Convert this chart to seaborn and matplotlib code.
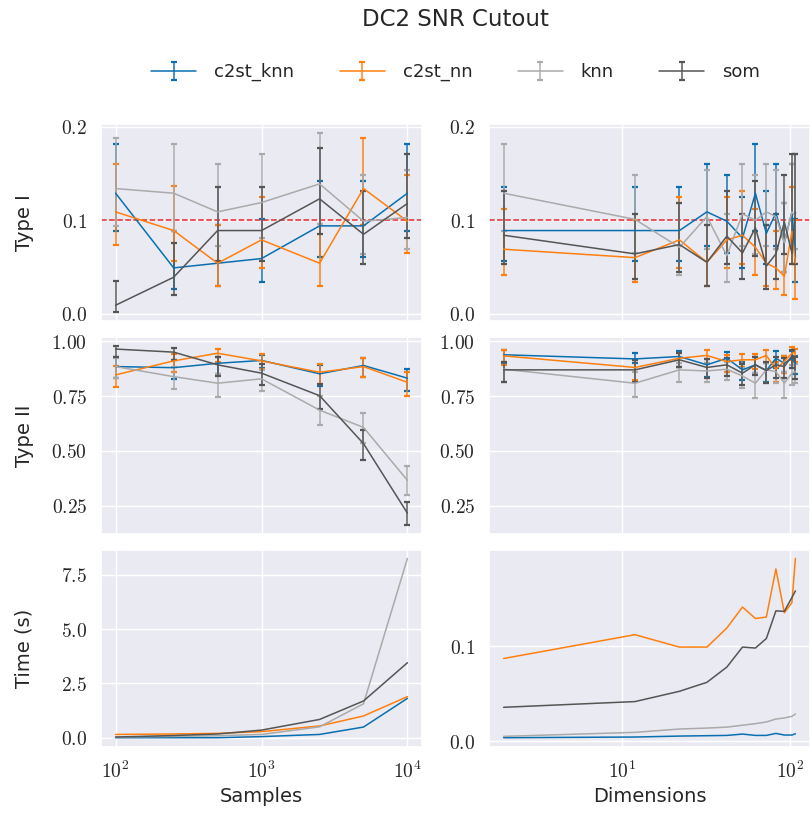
import numpy as np
import pandas as pd
import matplotlib
matplotlib.use("Agg")
import matplotlib.pyplot as plt
from matplotlib.ticker import FuncFormatter, NullLocator
import seaborn as sns

# ---------------- data ----------------
methods = ["c2st_knn", "c2st_nn", "knn", "som"]
colors = ["#0a6fb0", "#ff7f0e", "#aaaaaa", "#555555"]

samples = [100, 250, 500, 1000, 2500, 5000, 10000]
dims = [2, 12, 22, 32, 42, 52, 62, 72, 82, 92, 102, 107]

# Type I vs samples (value, lower bound, upper bound)
t1s_c2st_knn = [0.129, 0.049, 0.054, 0.059, 0.094, 0.094, 0.129]
t1s_c2st_knn_lo = [0.089, 0.026, 0.030, 0.034, 0.061, 0.061, 0.089]
t1s_c2st_knn_hi = [0.182, 0.089, 0.095, 0.101, 0.142, 0.142, 0.182]
t1s_c2st_nn = [0.109, 0.089, 0.054, 0.079, 0.054, 0.134, 0.099]
t1s_c2st_nn_lo = [0.073, 0.056, 0.030, 0.049, 0.030, 0.095, 0.065]
t1s_c2st_nn_hi = [0.160, 0.137, 0.095, 0.125, 0.096, 0.188, 0.148]
t1s_knn = [0.134, 0.129, 0.109, 0.119, 0.139, 0.099, 0.103]
t1s_knn_lo = [0.094, 0.089, 0.0725, 0.081, 0.096, 0.064, 0.069]
t1s_knn_hi = [0.188, 0.182, 0.160, 0.171, 0.194, 0.148, 0.154]
t1s_som = [0.009, 0.039, 0.089, 0.089, 0.123, 0.085, 0.118]
t1s_som_lo = [0.002, 0.020, 0.056, 0.056, 0.085, 0.053, 0.081]
t1s_som_hi = [0.035, 0.076, 0.136, 0.136, 0.177, 0.131, 0.171]

# Type I vs dimensions
t1d_c2st_knn = [0.089, 0.089, 0.089, 0.109, 0.099, 0.081, 0.129, 0.086, 0.108, 0.076, 0.109, 0.061]
t1d_c2st_knn_lo = [0.056, 0.056, 0.056, 0.0725, 0.065, 0.049, 0.089, 0.053, 0.0725, 0.045, 0.0725, 0.034]
t1d_c2st_knn_hi = [0.136, 0.136, 0.136, 0.160, 0.148, 0.125, 0.182, 0.131, 0.160, 0.119, 0.160, 0.101]
t1d_c2st_nn = [0.069, 0.060, 0.079, 0.055, 0.079, 0.084, 0.071, 0.054, 0.049, 0.040, 0.088, 0.054]
t1d_c2st_nn_lo = [0.041, 0.034, 0.049, 0.030, 0.049, 0.053, 0.041, 0.030, 0.026, 0.020, 0.053, 0.016]
t1d_c2st_nn_hi = [0.1125, 0.100, 0.125, 0.095, 0.125, 0.131, 0.1125, 0.095, 0.089, 0.082, 0.136, 0.100]
t1d_knn = [0.129, 0.101, 0.071, 0.104, 0.062, 0.107, 0.100, 0.109, 0.104, 0.076, 0.109, 0.104]
t1d_knn_lo = [0.089, 0.065, 0.041, 0.069, 0.034, 0.0725, 0.064, 0.0725, 0.069, 0.045, 0.0725, 0.069]
t1d_knn_hi = [0.182, 0.148, 0.119, 0.154, 0.107, 0.160, 0.148, 0.160, 0.154, 0.119, 0.160, 0.171]
t1d_som = [0.084, 0.064, 0.074, 0.055, 0.083, 0.065, 0.092, 0.051, 0.064, 0.098, 0.065, 0.109]
t1d_som_lo = [0.053, 0.0375, 0.045, 0.030, 0.053, 0.0375, 0.062, 0.026, 0.0375, 0.064, 0.053, 0.053]
t1d_som_hi = [0.131, 0.107, 0.119, 0.095, 0.131, 0.107, 0.142, 0.095, 0.107, 0.148, 0.171, 0.171]

# Type II vs samples
t2s_c2st_knn = [0.885, 0.880, 0.900, 0.913, 0.852, 0.890, 0.832]
t2s_c2st_knn_lo = [0.835, 0.829, 0.850, 0.880, 0.796, 0.839, 0.773]
t2s_c2st_knn_hi = [0.928, 0.916, 0.931, 0.940, 0.893, 0.923, 0.873]
t2s_c2st_nn = [0.847, 0.911, 0.946, 0.911, 0.859, 0.885, 0.813]
t2s_c2st_nn_lo = [0.790, 0.862, 0.905, 0.875, 0.805, 0.839, 0.752]
t2s_c2st_nn_hi = [0.888, 0.943, 0.966, 0.943, 0.897, 0.923, 0.858]
t2s_knn = [0.885, 0.839, 0.809, 0.829, 0.686, 0.607, 0.365]
t2s_knn_lo = [0.835, 0.784, 0.748, 0.775, 0.620, 0.538, 0.300]
t2s_knn_hi = [0.925, 0.885, 0.850, 0.870, 0.752, 0.671, 0.431]
t2s_som = [0.965, 0.951, 0.893, 0.855, 0.752, 0.533, 0.215]
t2s_som_lo = [0.928, 0.916, 0.842, 0.801, 0.690, 0.460, 0.161]
t2s_som_hi = [0.980, 0.969, 0.928, 0.897, 0.804, 0.594, 0.268]

# Type II vs dimensions
t2d_c2st_knn = [0.939, 0.920, 0.931, 0.893, 0.923, 0.870, 0.893, 0.867, 0.923, 0.900, 0.923, 0.900]
t2d_c2st_knn_lo = [0.900, 0.900, 0.885, 0.839, 0.858, 0.824, 0.855, 0.816, 0.878, 0.862, 0.878, 0.852]
t2d_c2st_knn_hi = [0.962, 0.949, 0.954, 0.919, 0.951, 0.904, 0.931, 0.901, 0.954, 0.934, 0.954, 0.934]
t2d_c2st_nn = [0.934, 0.881, 0.923, 0.936, 0.908, 0.916, 0.916, 0.936, 0.873, 0.908, 0.946, 0.949]
t2d_c2st_nn_lo = [0.893, 0.824, 0.885, 0.901, 0.858, 0.882, 0.873, 0.901, 0.816, 0.855, 0.916, 0.908]
t2d_c2st_nn_hi = [0.959, 0.913, 0.949, 0.959, 0.939, 0.943, 0.943, 0.959, 0.904, 0.934, 0.974, 0.966]
t2d_knn = [0.873, 0.809, 0.870, 0.865, 0.873, 0.842, 0.809, 0.870, 0.862, 0.809, 0.855, 0.862]
t2d_knn_lo = [0.816, 0.747, 0.816, 0.813, 0.824, 0.786, 0.740, 0.812, 0.809, 0.740, 0.801, 0.809]
t2d_knn_hi = [0.908, 0.858, 0.901, 0.901, 0.908, 0.878, 0.855, 0.901, 0.896, 0.858, 0.893, 0.896]
t2d_som = [0.870, 0.870, 0.916, 0.881, 0.893, 0.855, 0.893, 0.867, 0.893, 0.885, 0.934, 0.908]
t2d_som_lo = [0.816, 0.816, 0.882, 0.832, 0.842, 0.801, 0.847, 0.809, 0.832, 0.832, 0.878, 0.827]
t2d_som_hi = [0.908, 0.913, 0.949, 0.919, 0.923, 0.896, 0.931, 0.904, 0.931, 0.923, 0.962, 0.931]

# Time (s)
ts_c2st_knn = [0.00, 0.00, 0.00, 0.05, 0.15, 0.49, 1.81]
ts_c2st_nn = [0.15, 0.17, 0.20, 0.28, 0.54, 1.00, 1.89]
ts_knn = [0.03, 0.06, 0.09, 0.15, 0.50, 1.56, 8.25]
ts_som = [0.03, 0.10, 0.17, 0.35, 0.84, 1.69, 3.45]

td_c2st_knn = [0.0039, 0.0046, 0.0056, 0.0060, 0.0063, 0.0077, 0.0063, 0.0063, 0.0084, 0.0067, 0.0067, 0.0080]
td_c2st_nn = [0.087, 0.112, 0.099, 0.099, 0.119, 0.141, 0.129, 0.1305, 0.181, 0.135, 0.1456, 0.192]
td_knn = [0.0053, 0.0095, 0.013, 0.014, 0.015, 0.017, 0.0186, 0.0204, 0.0235, 0.0246, 0.0263, 0.0288]
td_som = [0.0358, 0.0418, 0.0526, 0.062, 0.078, 0.099, 0.098, 0.108, 0.137, 0.1365, 0.151, 0.158]

title = "DC2 SNR Cutout"
threshold = 0.1

# ---------------- style ----------------
sns.set_theme(style="darkgrid")
plt.rcParams["font.family"] = ["DejaVu Sans"]
plt.rcParams["mathtext.fontset"] = "cm"

fig = plt.figure(figsize=(8.10, 8.13), dpi=100)
lx, rx, w = 0.1247, 0.6037, 0.3963
rows_b = [0.6055, 0.3432, 0.0816]
h = 0.2425
axes = [[fig.add_axes([lx, b, w, h]), fig.add_axes([rx, b, w, h])] for b in rows_b]

num_fmt1 = FuncFormatter(lambda v, p: r"$%.1f$" % v)
num_fmt2 = FuncFormatter(lambda v, p: r"$%.2f$" % v)
log_fmt = FuncFormatter(lambda v, p: r"$10^{%d}$" % round(np.log10(v)))


def errplot(ax, x, vals, lo, hi, color, label):
    vals = np.array(vals); lo = np.array(lo); hi = np.array(hi)
    cont = ax.errorbar(x, vals, yerr=[vals - lo, hi - vals], color=color,
                       lw=1.1, elinewidth=1.4, capsize=2.5, capthick=1.6,
                       label=label)
    for bar in cont[2]:
        bar.set_alpha(0.75)
    return cont


def log_limits(x, frac=0.05):
    lx0, lx1 = np.log10(min(x)), np.log10(max(x))
    span = lx1 - lx0
    return 10 ** (lx0 - frac * span), 10 ** (lx1 + frac * span)


t1s = [(t1s_c2st_knn, t1s_c2st_knn_lo, t1s_c2st_knn_hi), (t1s_c2st_nn, t1s_c2st_nn_lo, t1s_c2st_nn_hi),
       (t1s_knn, t1s_knn_lo, t1s_knn_hi), (t1s_som, t1s_som_lo, t1s_som_hi)]
t1d = [(t1d_c2st_knn, t1d_c2st_knn_lo, t1d_c2st_knn_hi), (t1d_c2st_nn, t1d_c2st_nn_lo, t1d_c2st_nn_hi),
       (t1d_knn, t1d_knn_lo, t1d_knn_hi), (t1d_som, t1d_som_lo, t1d_som_hi)]
t2s = [(t2s_c2st_knn, t2s_c2st_knn_lo, t2s_c2st_knn_hi), (t2s_c2st_nn, t2s_c2st_nn_lo, t2s_c2st_nn_hi),
       (t2s_knn, t2s_knn_lo, t2s_knn_hi), (t2s_som, t2s_som_lo, t2s_som_hi)]
t2d = [(t2d_c2st_knn, t2d_c2st_knn_lo, t2d_c2st_knn_hi), (t2d_c2st_nn, t2d_c2st_nn_lo, t2d_c2st_nn_hi),
       (t2d_knn, t2d_knn_lo, t2d_knn_hi), (t2d_som, t2d_som_lo, t2d_som_hi)]

for row in axes:
    for ax in row:
        ax.set_xscale("log")

handles = []
for i, m in enumerate(methods):
    hnd = errplot(axes[0][0], samples, *t1s[i], colors[i], m)
    handles.append(hnd)
    errplot(axes[0][1], dims, *t1d[i], colors[i], m)
    errplot(axes[1][0], samples, *t2s[i], colors[i], m)
    errplot(axes[1][1], dims, *t2d[i], colors[i], m)

for ax in axes[0]:
    ax.axhline(threshold, color="#e8262a", ls="--", lw=1.1, zorder=1)

time_s = pd.DataFrame({"x": samples * 4,
                       "t": ts_c2st_knn + ts_c2st_nn + ts_knn + ts_som,
                       "m": sum([[m] * len(samples) for m in methods], [])})
time_d = pd.DataFrame({"x": dims * 4,
                       "t": td_c2st_knn + td_c2st_nn + td_knn + td_som,
                       "m": sum([[m] * len(dims) for m in methods], [])})
pal = dict(zip(methods, colors))
sns.lineplot(data=time_s, x="x", y="t", hue="m", palette=pal, ax=axes[2][0], lw=1.1, legend=False)
sns.lineplot(data=time_d, x="x", y="t", hue="m", palette=pal, ax=axes[2][1], lw=1.1, legend=False)

# shared y limits for the two test rows
for r in range(2):
    y0 = min(axes[r][0].get_ylim()[0], axes[r][1].get_ylim()[0])
    y1 = max(axes[r][0].get_ylim()[1], axes[r][1].get_ylim()[1])
    for ax in axes[r]:
        ax.set_ylim(y0, y1)

for r in range(3):
    axes[r][0].set_xlim(*log_limits(samples))
    axes[r][1].set_xlim(*log_limits(dims))

# ticks
for ax in axes[0]:
    ax.set_yticks([0.0, 0.1, 0.2]); ax.yaxis.set_major_formatter(num_fmt1)
for ax in axes[1]:
    ax.set_yticks([0.25, 0.5, 0.75, 1.0]); ax.yaxis.set_major_formatter(num_fmt2)
axes[2][0].set_yticks([0.0, 2.5, 5.0, 7.5]); axes[2][0].yaxis.set_major_formatter(num_fmt1)
axes[2][1].set_yticks([0.0, 0.1]); axes[2][1].yaxis.set_major_formatter(num_fmt1)
for r in range(3):
    for c in range(2):
        ax = axes[r][c]
        ax.xaxis.set_minor_locator(NullLocator())
        ax.xaxis.set_major_formatter(log_fmt)
        ax.tick_params(axis="both", labelsize=14, pad=4)
        ax.set_xlabel(""); ax.set_ylabel("")
        if r < 2:
            ax.tick_params(axis="x", labelbottom=False)

axes[0][0].set_ylabel("Type I", fontsize=14)
axes[1][0].set_ylabel("Type II", fontsize=14)
axes[2][0].set_ylabel("Time (s)", fontsize=14)
axes[2][0].set_xlabel("Samples", fontsize=14)
axes[2][1].set_xlabel("Dimensions", fontsize=14)
for ax in [axes[0][0], axes[1][0], axes[2][0]]:
    ax.yaxis.set_label_coords(-0.21, 0.5)

fig.suptitle(title, x=0.562, y=0.99, fontsize=16.5)
fig.legend(handles=handles, labels=methods, loc="center", bbox_to_anchor=(0.5625, 0.911),
           ncol=4, frameon=False, fontsize=13, handlelength=2.5, handletextpad=1.0,
           columnspacing=2.5)

fig.savefig("out.png", dpi=100)
